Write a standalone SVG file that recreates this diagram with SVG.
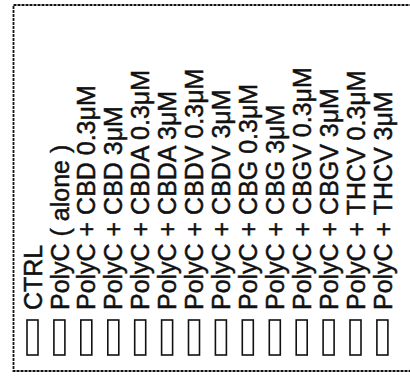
<svg xmlns="http://www.w3.org/2000/svg" width="410" height="376" viewBox="0 0 410 376">
<style>
.lbl{font-family:"Liberation Sans",Arial,sans-serif;font-size:25.5px;fill:#111;stroke:#111;stroke-width:0.5;}
.sw{fill:#fff;stroke:#111;stroke-width:1.6;}
.frame{fill:#fff;stroke:#111;stroke-width:1.8;stroke-dasharray:3 1;}
</style>
<rect class="frame" x="13.5" y="5" width="410" height="366"/>
<g id="legend">
<g id="item1"><text class="lbl" transform="translate(41.6,310) rotate(-90) scale(0.98,1)">CTRL</text><rect class="sw" x="27" y="320" width="11" height="35"/></g>
<g id="item2"><text class="lbl" transform="translate(68.5,310) rotate(-90) scale(0.98,1)">PolyC ( alone )</text><rect class="sw" x="53.9" y="320" width="11" height="35"/></g>
<g id="item3"><text class="lbl" transform="translate(95.4,310) rotate(-90) scale(0.98,1)">PolyC + CBD 0.3μM</text><rect class="sw" x="80.8" y="320" width="11" height="35"/></g>
<g id="item4"><text class="lbl" transform="translate(122.4,310) rotate(-90) scale(0.98,1)">PolyC + CBD 3μM</text><rect class="sw" x="107.8" y="320" width="11" height="35"/></g>
<g id="item5"><text class="lbl" transform="translate(149.3,310) rotate(-90) scale(0.98,1)">PolyC + CBDA 0.3μM</text><rect class="sw" x="134.7" y="320" width="11" height="35"/></g>
<g id="item6"><text class="lbl" transform="translate(176.2,310) rotate(-90) scale(0.98,1)">PolyC + CBDA 3μM</text><rect class="sw" x="161.6" y="320" width="11" height="35"/></g>
<g id="item7"><text class="lbl" transform="translate(203.1,310) rotate(-90) scale(0.98,1)">PolyC + CBDV 0.3μM</text><rect class="sw" x="188.5" y="320" width="11" height="35"/></g>
<g id="item8"><text class="lbl" transform="translate(230.0,310) rotate(-90) scale(0.98,1)">PolyC + CBDV 3μM</text><rect class="sw" x="215.4" y="320" width="11" height="35"/></g>
<g id="item9"><text class="lbl" transform="translate(256.9,310) rotate(-90) scale(0.98,1)">PolyC + CBG 0.3μM</text><rect class="sw" x="242.3" y="320" width="11" height="35"/></g>
<g id="item10"><text class="lbl" transform="translate(283.9,310) rotate(-90) scale(0.98,1)">PolyC + CBG 3μM</text><rect class="sw" x="269.3" y="320" width="11" height="35"/></g>
<g id="item11"><text class="lbl" transform="translate(310.8,310) rotate(-90) scale(0.98,1)">PolyC + CBGV 0.3μM</text><rect class="sw" x="296.2" y="320" width="11" height="35"/></g>
<g id="item12"><text class="lbl" transform="translate(337.7,310) rotate(-90) scale(0.98,1)">PolyC + CBGV 3μM</text><rect class="sw" x="323.1" y="320" width="11" height="35"/></g>
<g id="item13"><text class="lbl" transform="translate(364.6,310) rotate(-90) scale(0.98,1)">PolyC + THCV 0.3μM</text><rect class="sw" x="350" y="320" width="11" height="35"/></g>
<g id="item14"><text class="lbl" transform="translate(391.5,310) rotate(-90) scale(0.98,1)">PolyC + THCV 3μM</text><rect class="sw" x="376.9" y="320" width="11" height="35"/></g>
</g>
<g id="connectors"></g>
</svg>
